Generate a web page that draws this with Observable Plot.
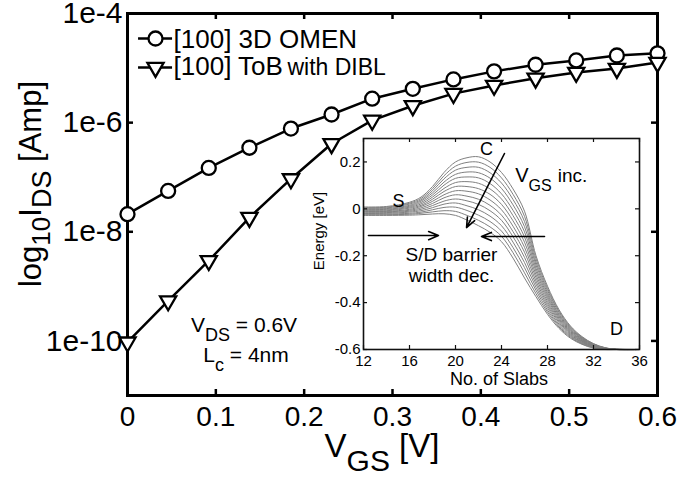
<!DOCTYPE html>
<html><head><meta charset="utf-8">
<script src="https://cdn.jsdelivr.net/npm/d3@7"></script>
<script src="https://cdn.jsdelivr.net/npm/@observablehq/plot@0.6"></script>
<style>
html,body{margin:0;padding:0;background:#fff;}
#wrap{position:relative;width:682px;height:481px;overflow:hidden;}
#inset{position:absolute;left:295px;top:128px;}
</style></head>
<body><div id="wrap"><div id="mainbox"></div><div id="inset"></div></div>
<script>
const FONT = "'Liberation Sans', Arial, Helvetica, sans-serif";

// ---- main chart data ----
const vgs  = [0, 0.046, 0.092, 0.138, 0.185, 0.231, 0.277, 0.323, 0.369, 0.415, 0.462, 0.508, 0.554, 0.6];
const omen = [2.1e-8, 5.6e-8, 1.48e-7, 3.47e-7, 7.8e-7, 1.41e-6, 2.75e-6, 4.17e-6, 6.2e-6, 8.7e-6, 1.15e-5, 1.38e-5, 1.7e-5, 1.86e-5];
const tob  = [9.5e-11, 5.4e-10, 2.95e-9, 1.82e-8, 9.3e-8, 4.1e-7, 1.1e-6, 2.04e-6, 3.4e-6, 4.8e-6, 6.5e-6, 8.3e-6, 9.8e-6, 1.26e-5];
const xTicks = [0, 0.1, 0.2, 0.3, 0.4, 0.5, 0.6];
const xTickLabels = ["0", "0.1", "0.2", "0.3", "0.4", "0.5", "0.6"];
const yTicks = [1e-10, 1e-8, 1e-6, 1e-4];
const yTickLabels = ["1e-10", "1e-8", "1e-6", "1e-4"];
const seriesNames = ["[100] 3D OMEN", "[100] ToB"];
const seriesSuffix = "with DIBL";

// ---- inset data (energy band profiles, one per VGS step) ----
const slabs = [12, 14, 16, 17, 18, 19, 20, 21, 22, 23, 24, 25, 26, 27, 28, 29, 30, 31, 32, 33, 34, 36];
const band00 = [0.008, 0.010, 0.028, 0.050, 0.095, 0.155, 0.200, 0.218, 0.222, 0.200, 0.155, 0.085, -0.010, -0.200, -0.330, -0.430, -0.500, -0.545, -0.575, -0.592, -0.599, -0.6];
const band01 = [0.005, 0.007, 0.024, 0.044, 0.086, 0.141, 0.182, 0.198, 0.199, 0.177, 0.132, 0.062, -0.032, -0.213, -0.339, -0.436, -0.504, -0.548, -0.576, -0.593, -0.599, -0.6];
const band02 = [0.003, 0.004, 0.020, 0.038, 0.077, 0.128, 0.165, 0.177, 0.177, 0.154, 0.110, 0.040, -0.054, -0.227, -0.348, -0.442, -0.508, -0.550, -0.578, -0.593, -0.599, -0.6];
const band03 = [0.000, 0.001, 0.015, 0.033, 0.068, 0.114, 0.147, 0.157, 0.154, 0.131, 0.087, 0.017, -0.076, -0.240, -0.358, -0.449, -0.512, -0.553, -0.579, -0.594, -0.599, -0.6];
const band04 = [-0.003, -0.002, 0.011, 0.027, 0.059, 0.101, 0.130, 0.136, 0.132, 0.108, 0.064, -0.006, -0.098, -0.254, -0.367, -0.455, -0.516, -0.555, -0.581, -0.595, -0.599, -0.6];
const band05 = [-0.006, -0.005, 0.007, 0.021, 0.050, 0.087, 0.112, 0.116, 0.109, 0.085, 0.042, -0.029, -0.120, -0.267, -0.376, -0.461, -0.520, -0.558, -0.582, -0.595, -0.6, -0.6];
const band06 = [-0.009, -0.008, 0.003, 0.015, 0.041, 0.074, 0.095, 0.095, 0.086, 0.062, 0.019, -0.051, -0.142, -0.281, -0.385, -0.467, -0.524, -0.560, -0.584, -0.596, -0.6, -0.6];
const band07 = [-0.011, -0.011, -0.002, 0.010, 0.032, 0.060, 0.077, 0.075, 0.064, 0.038, -0.004, -0.074, -0.164, -0.294, -0.395, -0.473, -0.528, -0.563, -0.585, -0.596, -0.6, -0.6];
const band08 = [-0.014, -0.013, -0.006, 0.004, 0.023, 0.047, 0.060, 0.054, 0.041, 0.015, -0.027, -0.097, -0.185, -0.308, -0.404, -0.479, -0.532, -0.565, -0.587, -0.597, -0.6, -0.6];
const band09 = [-0.017, -0.016, -0.010, -0.002, 0.014, 0.033, 0.042, 0.034, 0.019, -0.008, -0.049, -0.119, -0.207, -0.321, -0.413, -0.485, -0.536, -0.568, -0.588, -0.598, -0.6, -0.6];
const band10 = [-0.020, -0.019, -0.014, -0.008, 0.005, 0.020, 0.025, 0.013, -0.004, -0.031, -0.072, -0.142, -0.229, -0.335, -0.422, -0.492, -0.540, -0.570, -0.590, -0.598, -0.6, -0.6];
const band11 = [-0.022, -0.022, -0.019, -0.014, -0.004, 0.006, 0.007, -0.007, -0.027, -0.054, -0.095, -0.165, -0.251, -0.348, -0.432, -0.498, -0.544, -0.573, -0.591, -0.599, -0.6, -0.6];
const band12 = [-0.025, -0.025, -0.023, -0.019, -0.013, -0.008, -0.011, -0.028, -0.049, -0.077, -0.117, -0.187, -0.273, -0.362, -0.441, -0.504, -0.548, -0.576, -0.593, -0.599, -0.6, -0.6];
const band13 = [-0.028, -0.028, -0.027, -0.025, -0.022, -0.021, -0.028, -0.048, -0.072, -0.100, -0.140, -0.210, -0.295, -0.375, -0.450, -0.510, -0.552, -0.578, -0.594, -0.6, -0.6, -0.6];
const bands = [band00, band01, band02, band03, band04, band05, band06, band07, band08, band09, band10, band11, band12, band13];
const slabTicks = [12, 16, 20, 24, 28, 32, 36];
const energyTicks = [-0.6, -0.4, -0.2, 0, 0.2];
const energyTickLabels = ["-0.6", "-0.4", "-0.2", "0", "0.2"];

// ---- tables built from the arrays ----
const rows = vgs.map((v, i) => ({v, omen: omen[i], tob: tob[i]}));
const bandRows = [];
bands.forEach((b, k) => b.forEach((e, i) => bandRows.push({slab: slabs[i], e, k})));

// ---- main chart ----
const W = 682, H = 481, ML = 127, MR = 25, MT = 13, MB = 86;
const FW = W - ML - MR, FH = H - MT - MB;
const main = Plot.plot({
  width: W, height: H,
  marginLeft: ML, marginRight: MR, marginTop: MT, marginBottom: MB,
  x: {domain: [0, 0.6], axis: null},
  y: {type: "log", domain: [1e-11, 1e-4], axis: null},
  style: {fontFamily: FONT, background: "white", color: "black", overflow: "visible"},
  marks: [
    Plot.frame({stroke: "black", strokeWidth: 3}),
    Plot.tickX(xTicks, {x: d => d, insetTop: FH - 6, strokeWidth: 2.5}),
    Plot.tickX(xTicks, {x: d => d, insetBottom: FH - 6, strokeWidth: 2.5}),
    Plot.tickY(yTicks, {y: d => d, insetRight: FW - 6, strokeWidth: 2.5}),
    Plot.tickY(yTicks, {y: d => d, insetLeft: FW - 6, strokeWidth: 2.5}),
    Plot.line(rows, {x: "v", y: "omen", stroke: "black", strokeWidth: 2.5}),
    Plot.line(rows, {x: "v", y: "tob", stroke: "black", strokeWidth: 2.5}),
    Plot.dot(rows, {x: "v", y: "omen", r: 7, fill: "white", stroke: "black", strokeWidth: 2.3}),
    Plot.dot(rows, {x: "v", y: "tob", symbol: "triangle", rotate: 180, r: 6, fill: "white", stroke: "black", strokeWidth: 2.3}),
    // legend
    Plot.ruleY([3.48e-5], {x1: 0.0125, x2: 0.051, stroke: "black", strokeWidth: 2.5}),
    Plot.ruleY([1.02e-5], {x1: 0.0125, x2: 0.051, stroke: "black", strokeWidth: 2.5}),
    Plot.dot([{x: 0.0317, y: 3.48e-5}], {x: "x", y: "y", r: 7, fill: "white", stroke: "black", strokeWidth: 2.3}),
    Plot.dot([{x: 0.0317, y: 1.02e-5}], {x: "x", y: "y", symbol: "triangle", rotate: 180, r: 6, fill: "white", stroke: "black", strokeWidth: 2.3}),
    Plot.text([{x: 0.0521, y: 2.38e-5, t: seriesNames[0]}], {x: "x", y: "y", text: "t", textAnchor: "start", lineAnchor: "bottom", fontSize: 26}),
    Plot.text([{x: 0.0521, y: 7.31e-6, t: seriesNames[1]}], {x: "x", y: "y", text: "t", textAnchor: "start", lineAnchor: "bottom", fontSize: 26}),
    Plot.text([{x: 0.1811, y: 7.31e-6, t: seriesSuffix}], {x: "x", y: "y", text: "t", textAnchor: "start", lineAnchor: "bottom", fontSize: 23}),
    // axes
    Plot.axisX(xTicks, {tickSize: 0, tickPadding: 11, fontSize: 28, label: null, tickFormat: d => xTickLabels[xTicks.indexOf(d)]}),
    Plot.axisY(yTicks, {tickSize: 0, tickPadding: 5, fontSize: 30, label: null, tickFormat: d => yTickLabels[yTicks.indexOf(d)]})
  ]
});
document.getElementById("mainbox").appendChild(main);

function richText(svg, x, y, parts, rotate, anchor) {
  const t = d3.select(svg).append("text")
    .attr("transform", `translate(${x},${y})` + (rotate ? ` rotate(${rotate})` : ""))
    .attr("text-anchor", anchor || "middle")
    .attr("font-family", FONT)
    .attr("fill", "black");
  parts.forEach(p => {
    const s = t.append("tspan").attr("font-size", p.size).text(p.t);
    if (p.dy) s.attr("dy", p.dy);
  });
  return t;
}
// y axis title
richText(main, 41, 184, [
  {t: "log", size: 31}, {t: "10", size: 26, dy: 9}, {t: "I", size: 31, dy: -9},
  {t: "DS", size: 27, dy: 10}, {t: " [Amp]", size: 31, dy: -10}
], -90);
// x axis title
richText(main, 382, 457, [
  {t: "V", size: 33}, {t: "GS", size: 30, dy: 14}, {t: " [V]", size: 33, dy: -14}
]);
// conditions
richText(main, 244, 332, [
  {t: "V", size: 21}, {t: "DS", size: 18, dy: 9}, {t: " = 0.6V", size: 21, dy: -9}
]);
richText(main, 246, 362, [
  {t: "L", size: 21}, {t: "c", size: 18, dy: 9}, {t: " = 4nm", size: 21, dy: -9}
]);

// ---- inset chart ----
const IW = 355, IH = 265, IML = 68, IMR = 11, IMT = 10, IMB = 44;
const IFW = IW - IML - IMR, IFH = IH - IMT - IMB;
const arrowOpts = {x1: "x1", y1: "y1", x2: "x2", y2: "y2", stroke: "black", strokeWidth: 1.6, headLength: 10, headAngle: 45};
const inset = Plot.plot({
  width: IW, height: IH,
  marginLeft: IML, marginRight: IMR, marginTop: IMT, marginBottom: IMB,
  x: {domain: [12, 36], axis: null},
  y: {domain: [-0.6, 0.3], axis: null},
  style: {fontFamily: FONT, background: "transparent", color: "black", overflow: "visible"},
  marks: [
    Plot.frame({fill: "white"}),
    Plot.line(bandRows, {x: "slab", y: "e", z: "k", stroke: "#808080", strokeWidth: 1, curve: "catmull-rom"}),
    Plot.frame({stroke: "#111", strokeWidth: 1.6}),
    Plot.tickX(slabTicks, {x: d => d, insetTop: IFH - 4, stroke: "#111", strokeWidth: 1.2}),
    Plot.tickX(slabTicks, {x: d => d, insetBottom: IFH - 4, stroke: "#111", strokeWidth: 1.2}),
    Plot.tickY(energyTicks, {y: d => d, insetRight: IFW - 4, stroke: "#111", strokeWidth: 1.2}),
    Plot.tickY(energyTicks, {y: d => d, insetLeft: IFW - 4, stroke: "#111", strokeWidth: 1.2}),
    Plot.axisX(slabTicks, {tickSize: 0, tickPadding: 6, fontSize: 15, label: null}),
    Plot.axisY(energyTicks, {tickSize: 0, tickPadding: 3, fontSize: 15, label: null, tickFormat: d => energyTickLabels[energyTicks.indexOf(d)]}),
    Plot.text([{x: 15.04, y: 0.031, t: "S"}, {x: 22.7, y: 0.253, t: "C"}, {x: 34.0, y: -0.513, t: "D"}], {x: "x", y: "y", text: "t", fontSize: 18}),
    Plot.text([{x: 25.78, y: 0.142, t: "V"}], {x: "x", y: "y", text: "t", fontSize: 20}),
    Plot.text([{x: 27.35, y: 0.099, t: "GS"}], {x: "x", y: "y", text: "t", fontSize: 16}),
    Plot.text([{x: 30.17, y: 0.142, t: "inc."}], {x: "x", y: "y", text: "t", fontSize: 19}),
    Plot.text([{x: 19.65, y: -0.198, t: "S/D barrier"}, {x: 19.65, y: -0.287, t: "width dec."}], {x: "x", y: "y", text: "t", fontSize: 19}),
    Plot.arrow([{x1: 24.26, y1: 0.236, x2: 20.96, y2: -0.08}], arrowOpts),
    Plot.arrow([{x1: 12.43, y1: -0.114, x2: 18.52, y2: -0.114}], arrowOpts),
    Plot.arrow([{x1: 27.74, y1: -0.118, x2: 22.26, y2: -0.118}], arrowOpts)
  ]
});
document.getElementById("inset").appendChild(inset);
richText(inset, 29, 103, [{t: "Energy [eV]", size: 15}], -90);
richText(inset, 204, 257, [{t: "No. of Slabs", size: 18}]);
</script>
</body></html>
